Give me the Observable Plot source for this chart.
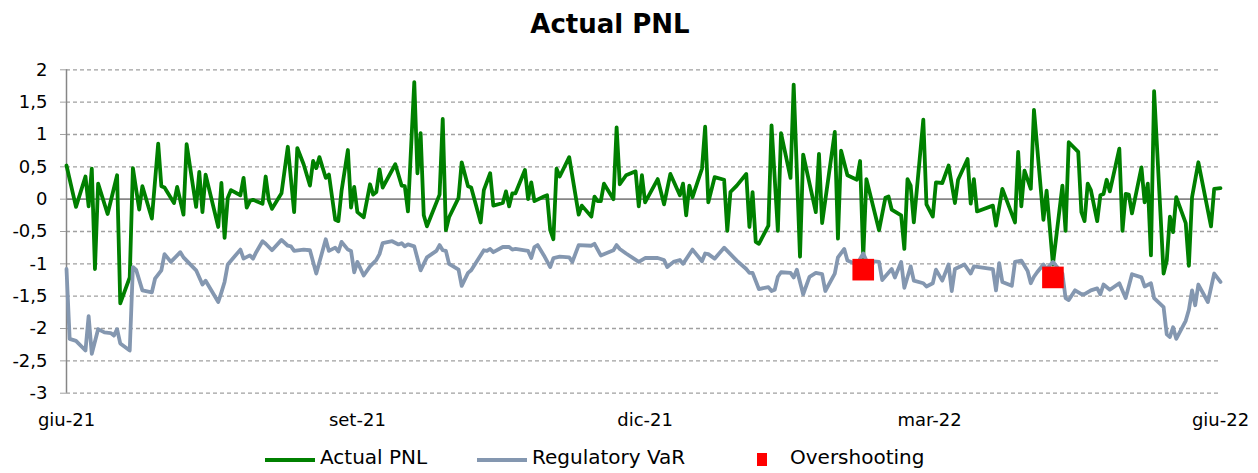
<!DOCTYPE html>
<html><head><meta charset="utf-8">
<script src="https://cdn.jsdelivr.net/npm/d3@7"></script>
<script src="https://cdn.jsdelivr.net/npm/@observablehq/plot@0.6"></script>
<style>
body{margin:0;background:#fff;font-family:"DejaVu Sans",sans-serif;color:#000;}
#wrap{position:relative;width:1258px;height:473px;overflow:hidden;}
#title{position:absolute;left:0;top:0;width:1220px;height:50px;line-height:48px;text-align:center;font-size:26px;font-weight:bold;}
#chart{position:absolute;left:0;top:50px;}
#legend{position:absolute;left:0;top:440px;width:1258px;height:33px;font-size:20px;}
.sw{position:absolute;}
.lt{position:absolute;top:5px;line-height:24px;white-space:nowrap;}
</style></head><body>
<div id="wrap">
  <div id="title">Actual PNL</div>
  <div id="chart"></div>
  <div id="legend"></div>
</div>
<script>
const seriesNames = ["Actual PNL", "Regulatory VaR", "Overshooting"];
const seriesColors = ["#008000", "#8497b0", "#ff0000"];
const yTicks = [-3, -2.5, -2, -1.5, -1, -0.5, 0, 0.5, 1, 1.5, 2];
const xTicks = ["2021-06-01", "2021-09-01", "2021-12-01", "2022-03-01", "2022-06-01"];
const monthNames = ["gen","feb","mar","apr","mag","giu","lug","ago","set","ott","nov","dic"];

const actualPnl = [
["2021-06-01",0.52],["2021-06-04",-0.12],["2021-06-07",0.35],["2021-06-08",-0.11],["2021-06-09",0.47],["2021-06-10",-1.08],["2021-06-11",0.24],["2021-06-14",-0.23],["2021-06-17",0.37],["2021-06-18",-1.61],["2021-06-21",-1.21],["2021-06-22",0.48],["2021-06-24",-0.16],["2021-06-25",0.2],["2021-06-28",-0.3],["2021-06-30",0.86],
["2021-07-01",0.2],["2021-07-02",0.18],["2021-07-05",-0.06],["2021-07-06",0.19],["2021-07-08",-0.24],["2021-07-09",0.85],["2021-07-12",-0.12],["2021-07-13",0.42],["2021-07-14",-0.2],["2021-07-15",0.38],["2021-07-19",-0.43],["2021-07-20",0.25],["2021-07-21",-0.6],["2021-07-22",0.02],["2021-07-23",0.14],["2021-07-26",0.06],["2021-07-27",0.33],["2021-07-28",-0.13],["2021-07-29",-0.03],["2021-07-30",-0.01],
["2021-08-02",-0.07],["2021-08-03",0.35],["2021-08-04",-0.02],["2021-08-05",-0.15],["2021-08-08",0.09],["2021-08-10",0.81],["2021-08-12",-0.2],["2021-08-13",0.79],["2021-08-15",0.54],["2021-08-17",0.21],["2021-08-18",0.59],["2021-08-19",0.48],["2021-08-20",0.65],["2021-08-22",0.33],["2021-08-23",0.38],["2021-08-25",-0.32],["2021-08-26",-0.34],["2021-08-27",0.13],["2021-08-29",0.76],["2021-08-30",-0.13],["2021-08-31",0.19],
["2021-09-01",-0.2],["2021-09-03",-0.28],["2021-09-05",0.23],["2021-09-06",0.07],["2021-09-07",0.11],["2021-09-08",0.46],["2021-09-09",0.18],["2021-09-13",0.54],["2021-09-15",0.21],["2021-09-16",0.2],["2021-09-17",-0.19],["2021-09-19",1.81],["2021-09-20",0.4],["2021-09-21",1.02],["2021-09-22",-0.25],["2021-09-23",-0.42],["2021-09-27",0.07],["2021-09-28",1.24],["2021-09-29",-0.48],["2021-09-30",-0.28],
["2021-10-03",0.02],["2021-10-04",0.57],["2021-10-06",0.2],["2021-10-07",0.18],["2021-10-10",-0.36],["2021-10-11",0.14],["2021-10-13",0.4],["2021-10-14",-0.1],["2021-10-17",-0.06],["2021-10-18",0.12],["2021-10-19",-0.11],["2021-10-20",0.09],["2021-10-21",0.09],["2021-10-24",0.45],["2021-10-25",0.0],["2021-10-26",0.26],["2021-10-27",-0.03],["2021-10-30",0.04],["2021-10-31",0.06],
["2021-11-01",-0.48],["2021-11-02",-0.62],["2021-11-03",0.47],["2021-11-04",0.35],["2021-11-07",0.65],["2021-11-10",-0.24],["2021-11-11",-0.1],["2021-11-14",-0.27],["2021-11-15",0.04],["2021-11-16",-0.03],["2021-11-17",-0.03],["2021-11-18",0.24],["2021-11-21",0.0],["2021-11-22",1.11],["2021-11-23",0.23],["2021-11-25",0.37],["2021-11-28",0.43],["2021-11-29",-0.11],["2021-11-30",0.37],
["2021-12-01",-0.05],["2021-12-05",0.31],["2021-12-07",-0.08],["2021-12-09",0.39],["2021-12-12",0.06],["2021-12-13",0.24],["2021-12-14",-0.25],["2021-12-15",0.21],["2021-12-16",0.03],["2021-12-19",0.47],["2021-12-20",1.12],["2021-12-21",-0.05],["2021-12-23",0.34],["2021-12-26",0.3],["2021-12-27",-0.49],["2021-12-28",0.11],["2021-12-30",0.21],
["2022-01-02",0.39],["2022-01-03",-0.43],["2022-01-04",0.11],["2022-01-05",-0.66],["2022-01-06",-0.69],["2022-01-09",-0.41],["2022-01-10",1.14],["2022-01-12",-0.49],["2022-01-13",1.02],["2022-01-16",0.33],["2022-01-17",1.77],["2022-01-19",-0.89],["2022-01-20",0.69],["2022-01-24",-0.2],["2022-01-25",0.7],["2022-01-26",-0.37],["2022-01-30",1.04],["2022-01-31",-0.61],
["2022-02-01",0.75],["2022-02-03",0.37],["2022-02-06",0.3],["2022-02-07",0.59],["2022-02-08",-0.9],["2022-02-09",0.31],["2022-02-13",-0.48],["2022-02-15",0.02],["2022-02-16",0.04],["2022-02-17",-0.16],["2022-02-20",-0.25],["2022-02-21",-0.77],["2022-02-22",0.31],["2022-02-23",0.21],["2022-02-24",-0.36],["2022-02-27",1.23],["2022-02-28",-0.08],
["2022-03-02",-0.27],["2022-03-03",0.26],["2022-03-05",0.25],["2022-03-07",0.52],["2022-03-09",-0.06],["2022-03-10",0.3],["2022-03-13",0.62],["2022-03-14",-0.07],["2022-03-15",0.31],["2022-03-16",-0.19],["2022-03-21",-0.1],["2022-03-22",-0.41],["2022-03-24",0.16],["2022-03-28",-0.36],["2022-03-29",0.73],["2022-03-30",-0.11],["2022-03-31",0.44],
["2022-04-02",0.16],["2022-04-03",1.38],["2022-04-06",-0.32],["2022-04-07",0.13],["2022-04-09",-1.01],["2022-04-12",0.21],["2022-04-13",-0.49],["2022-04-14",0.88],["2022-04-17",0.73],["2022-04-18",-0.2],["2022-04-19",-0.34],["2022-04-20",0.24],["2022-04-21",0.14],["2022-04-23",-0.34],["2022-04-24",0.06],["2022-04-25",0.08],["2022-04-26",0.3],["2022-04-27",0.12],["2022-04-30",0.78],
["2022-05-01",-0.49],["2022-05-02",0.08],["2022-05-03",0.07],["2022-05-04",-0.22],["2022-05-07",0.49],["2022-05-08",-0.05],["2022-05-09",0.24],["2022-05-10",-0.87],["2022-05-11",1.67],["2022-05-14",-1.15],["2022-05-15",-0.95],["2022-05-16",-0.27],["2022-05-17",-0.51],["2022-05-18",0.03],["2022-05-21",-0.37],["2022-05-22",-1.03],["2022-05-23",0.03],["2022-05-25",0.57],["2022-05-29",-0.42],["2022-05-30",0.16],["2022-06-01",0.17]
];

const regulatoryVar = [
["2021-06-01",-1.08],["2021-06-02",-2.16],["2021-06-04",-2.19],["2021-06-07",-2.34],["2021-06-08",-1.81],["2021-06-09",-2.39],["2021-06-11",-2.01],["2021-06-13",-2.06],["2021-06-15",-2.07],["2021-06-16",-2.11],["2021-06-17",-2.01],["2021-06-18",-2.23],["2021-06-21",-2.34],["2021-06-22",-1.05],["2021-06-23",-1.09],["2021-06-25",-1.41],["2021-06-28",-1.44],["2021-06-29",-1.23],
["2021-07-01",-1.1],["2021-07-02",-0.85],["2021-07-04",-0.97],["2021-07-07",-0.82],["2021-07-08",-0.9],["2021-07-12",-1.1],["2021-07-14",-1.32],["2021-07-15",-1.26],["2021-07-19",-1.59],["2021-07-20",-1.44],["2021-07-21",-1.28],["2021-07-22",-1.01],["2021-07-26",-0.78],["2021-07-27",-0.92],["2021-07-29",-0.87],["2021-07-30",-0.92],["2021-07-31",-0.82],
["2021-08-02",-0.65],["2021-08-03",-0.69],["2021-08-05",-0.79],["2021-08-08",-0.63],["2021-08-10",-0.72],["2021-08-11",-0.73],["2021-08-12",-0.8],["2021-08-15",-0.78],["2021-08-17",-0.79],["2021-08-19",-1.15],["2021-08-22",-0.62],["2021-08-23",-0.8],["2021-08-25",-0.75],["2021-08-26",-0.81],["2021-08-27",-0.66],["2021-08-29",-0.78],["2021-08-30",-0.8],["2021-08-31",-1.13],
["2021-09-01",-0.97],["2021-09-03",-1.18],["2021-09-05",-1.04],["2021-09-07",-0.94],["2021-09-08",-0.85],["2021-09-09",-0.68],["2021-09-12",-0.65],["2021-09-14",-0.7],["2021-09-15",-0.68],["2021-09-16",-0.73],["2021-09-17",-0.7],["2021-09-19",-0.73],["2021-09-21",-1.1],["2021-09-23",-0.9],["2021-09-26",-0.8],["2021-09-27",-0.71],["2021-09-28",-0.79],["2021-09-29",-0.8],["2021-09-30",-1.0],
["2021-10-03",-1.09],["2021-10-04",-1.34],["2021-10-06",-1.14],["2021-10-07",-1.1],["2021-10-11",-0.79],["2021-10-12",-0.8],["2021-10-13",-0.77],["2021-10-14",-0.82],["2021-10-17",-0.74],["2021-10-19",-0.74],["2021-10-20",-0.78],["2021-10-21",-0.77],["2021-10-25",-0.8],["2021-10-26",-0.91],["2021-10-27",-0.74],["2021-10-28",-0.71],["2021-10-30",-0.87],
["2021-11-01",-1.05],["2021-11-02",-0.91],["2021-11-04",-0.89],["2021-11-07",-0.9],["2021-11-08",-0.97],["2021-11-10",-0.71],["2021-11-14",-0.72],["2021-11-15",-0.69],["2021-11-17",-0.87],["2021-11-21",-0.79],["2021-11-22",-0.71],["2021-11-23",-0.77],["2021-11-25",-0.84],["2021-11-29",-0.97],
["2021-12-01",-0.91],["2021-12-05",-0.91],["2021-12-07",-0.94],["2021-12-08",-1.05],["2021-12-10",-0.97],["2021-12-12",-0.94],["2021-12-13",-1.0],["2021-12-16",-0.78],["2021-12-19",-0.96],["2021-12-20",-0.84],["2021-12-21",-0.85],["2021-12-23",-0.92],["2021-12-26",-0.75],["2021-12-28",-0.85],["2021-12-30",-0.95],
["2022-01-02",-1.08],["2022-01-03",-1.14],["2022-01-04",-1.14],["2022-01-06",-1.39],["2022-01-09",-1.36],["2022-01-10",-1.42],["2022-01-11",-1.4],["2022-01-12",-1.2],["2022-01-13",-1.13],["2022-01-16",-1.14],["2022-01-17",-1.21],["2022-01-18",-1.09],["2022-01-20",-1.47],["2022-01-22",-1.2],["2022-01-24",-1.14],["2022-01-26",-1.16],["2022-01-27",-1.42],["2022-01-30",-1.15],["2022-01-31",-0.9],
["2022-02-02",-0.77],["2022-02-03",-0.95],["2022-02-06",-1.01],["2022-02-08",-0.84],["2022-02-09",-0.95],["2022-02-13",-0.97],["2022-02-14",-1.25],["2022-02-17",-1.08],["2022-02-18",-1.21],["2022-02-20",-0.97],["2022-02-21",-1.37],["2022-02-23",-1.04],["2022-02-24",-1.26],["2022-02-27",-1.3],["2022-02-28",-1.35],
["2022-03-02",-1.3],["2022-03-03",-1.09],["2022-03-05",-1.26],["2022-03-07",-1.01],["2022-03-08",-1.42],["2022-03-09",-1.08],["2022-03-12",-1.01],["2022-03-14",-1.15],["2022-03-15",-1.04],["2022-03-21",-1.08],["2022-03-22",-1.41],["2022-03-23",-0.99],["2022-03-24",-1.28],["2022-03-27",-1.34],["2022-03-28",-0.97],["2022-03-30",-0.95],
["2022-04-01",-1.11],["2022-04-02",-1.3],["2022-04-03",-1.2],["2022-04-04",-1.13],["2022-04-06",-1.01],["2022-04-07",-1.08],["2022-04-09",-0.97],["2022-04-12",-1.15],["2022-04-13",-1.53],["2022-04-14",-1.56],["2022-04-16",-1.41],["2022-04-18",-1.47],["2022-04-19",-1.47],["2022-04-21",-1.41],["2022-04-23",-1.38],["2022-04-24",-1.47],["2022-04-25",-1.32],["2022-04-27",-1.4],["2022-04-30",-1.3],
["2022-05-02",-1.53],["2022-05-04",-1.16],["2022-05-07",-1.21],["2022-05-08",-1.35],["2022-05-10",-1.3],["2022-05-11",-1.53],["2022-05-14",-1.67],["2022-05-15",-2.09],["2022-05-16",-2.13],["2022-05-17",-1.98],["2022-05-18",-2.16],["2022-05-21",-1.88],["2022-05-22",-1.71],["2022-05-23",-1.41],["2022-05-24",-1.64],["2022-05-25",-1.32],["2022-05-28",-1.59],["2022-05-30",-1.15],["2022-06-01",-1.28]
];

const overshooting = [["2022-02-08",-1.09],["2022-04-09",-1.21]];

const parse = d3.utcParse("%Y-%m-%d");
const toRows = arr => arr.map(([d, v]) => ({date: parse(d), value: v}));
const pnlRows = toRows(actualPnl);
const varRows = toRows(regulatoryVar);
const overRows = toRows(overshooting);
const xTickDates = xTicks.map(parse);
const fmtY = v => String(v).replace(".", ",");
const fmtX = d => monthNames[d.getUTCMonth()] + "-" + String(d.getUTCFullYear()).slice(2);

const chart = Plot.plot({
  width: 1258, height: 390,
  marginLeft: 66, marginRight: 38, marginTop: 19.3, marginBottom: 47.3,
  x: {type: "utc", domain: [xTickDates[0], xTickDates[xTickDates.length - 1]], label: null},
  y: {domain: [-3, 2], label: null},
  style: {fontFamily: "DejaVu Sans", fontSize: "18px", color: "#000", background: "#fff", overflow: "visible"},
  marks: [
    Plot.ruleY(yTicks.filter(v => v !== 0), {stroke: "#a0a0a0", strokeWidth: 1.3, strokeDasharray: "4,3"}),
    Plot.ruleY([0], {stroke: "#868686", strokeWidth: 1.8}),
    Plot.ruleX([xTickDates[0]], {stroke: "#868686", strokeWidth: 1.5}),
    Plot.axisY({ticks: yTicks, tickFormat: fmtY, tickSize: 6, tickPadding: 13, stroke: "#a0a0a0", fill: "#000", label: null}),
    Plot.axisX({ticks: xTickDates, tickFormat: fmtX, tickSize: 0, tickPadding: 20, fill: "#000", label: null}),
    Plot.line(pnlRows, {x: "date", y: "value", stroke: seriesColors[0], strokeWidth: 3.8, strokeLinejoin: "round"}),
    Plot.line(varRows, {x: "date", y: "value", stroke: seriesColors[1], strokeWidth: 3.8, strokeLinejoin: "round"}),
    Plot.dot(overRows, {x: "date", y: "value", symbol: "square", r: 12.2, fill: seriesColors[2], stroke: "none"})
  ]
});
document.getElementById("chart").appendChild(chart);

// legend
const legend = document.getElementById("legend");
const items = [
  {sw: {left: 265, top: 18, w: 50, h: 4}, tx: 320},
  {sw: {left: 477, top: 18, w: 50, h: 4}, tx: 532},
  {sw: {left: 757, top: 13, w: 10, h: 13}, tx: 790}
];
items.forEach((it, i) => {
  const s = document.createElement("div");
  s.className = "sw";
  Object.assign(s.style, {left: it.sw.left + "px", top: it.sw.top + "px", width: it.sw.w + "px", height: it.sw.h + "px", background: seriesColors[i]});
  legend.appendChild(s);
  const t = document.createElement("div");
  t.className = "lt";
  t.style.left = it.tx + "px";
  t.textContent = seriesNames[i];
  legend.appendChild(t);
});
</script>
</body></html>
